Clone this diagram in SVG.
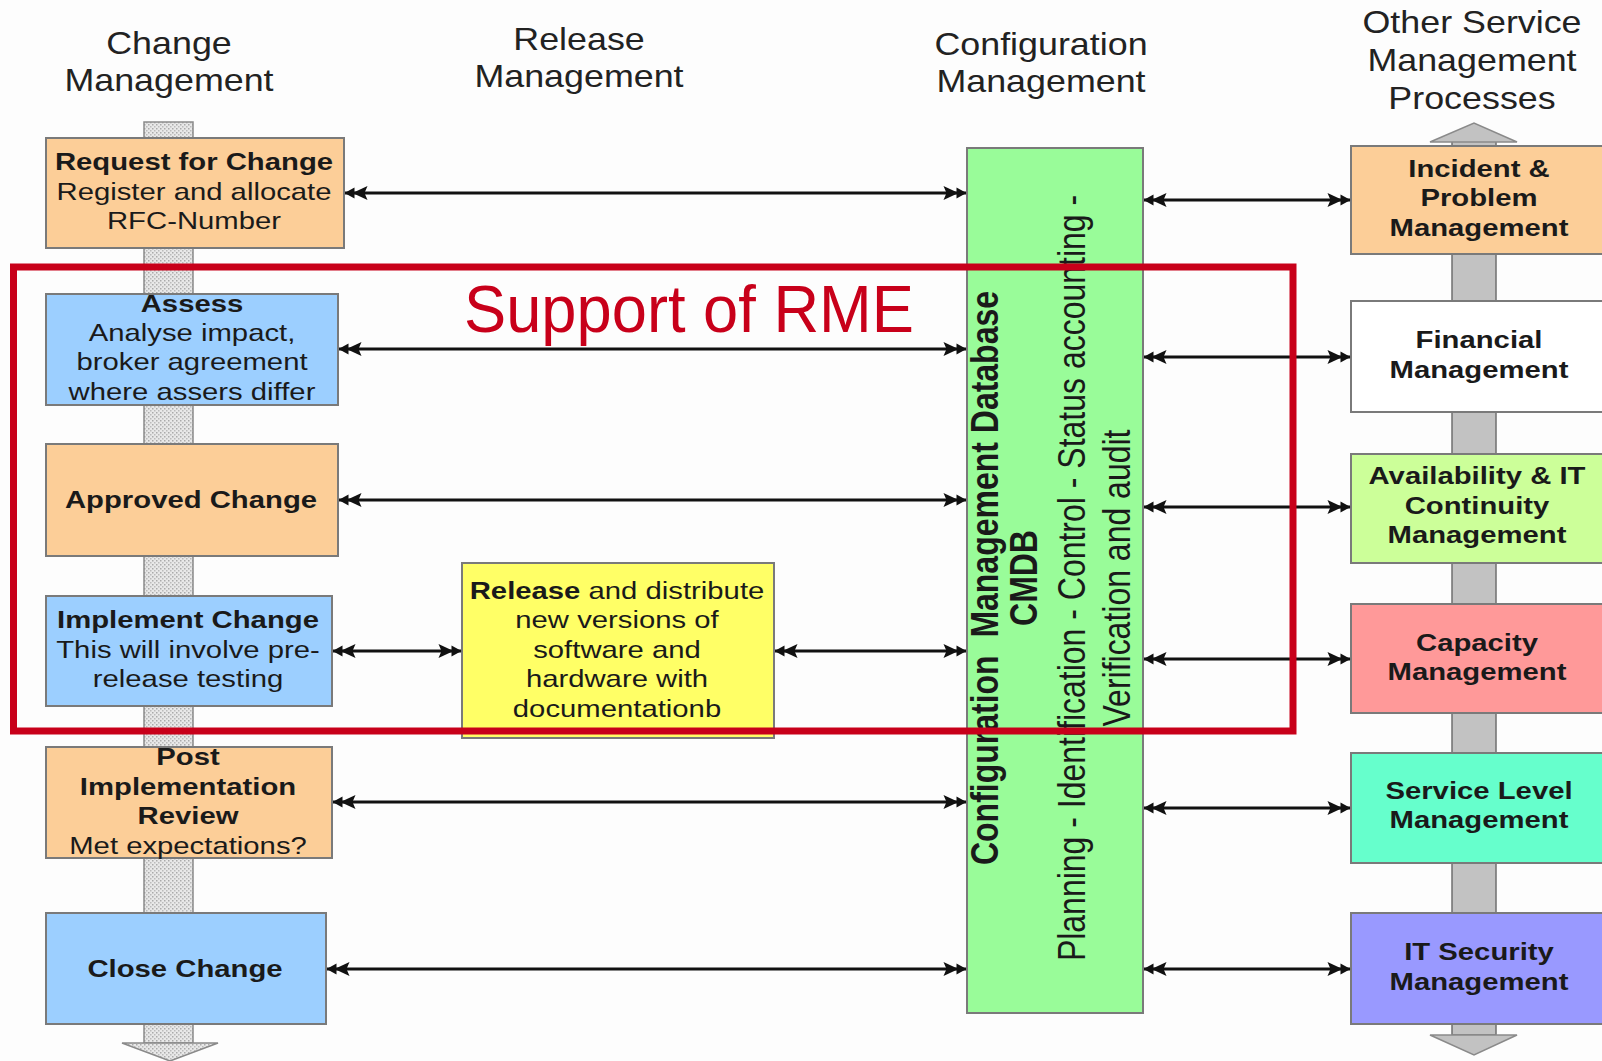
<svg xmlns="http://www.w3.org/2000/svg" width="1602" height="1061" viewBox="0 0 1602 1061">
<style>
text{font-family:"Liberation Sans",Arial,sans-serif;fill:#1a1a1a;text-anchor:middle}
.h{font-size:32px;fill:#222}
.t{font-size:24px}
.b{font-size:24px;font-weight:bold}
.box{stroke:#7a7a7a;stroke-width:2}
.conn{stroke:#111;stroke-width:3.2;fill:none;marker-start:url(#dbl);marker-end:url(#dbl)}
.cm{font-size:32px}
.cmb{font-size:32px;font-weight:bold;white-space:pre}
</style>
<defs>
<pattern id="dots" width="4" height="4" patternUnits="userSpaceOnUse">
<rect width="4" height="4" fill="#e8e8e8"/>
<rect x="0" y="0" width="1.5" height="1.5" fill="#aaaaaa"/>
<rect x="2" y="2" width="1.5" height="1.5" fill="#bbbbbb"/>
</pattern>
<marker id="dbl" viewBox="0 0 25 18" refX="24.5" refY="9" markerWidth="25" markerHeight="18" markerUnits="userSpaceOnUse" orient="auto-start-reverse">
<path d="M25,9 L15,3.5 L15,14.5 Z M17,9 L2,2 L5,9 L2,16 Z" fill="#111"/>
</marker>
</defs>
<rect width="1602" height="1061" fill="#fdfdfd"/>

<g id="headers">
<g transform="translate(169 0) scale(1.12 1)">
<text class="h" x="0" y="54">Change</text>
<text class="h" x="0" y="91">Management</text>
</g>
<g transform="translate(579 0) scale(1.12 1)">
<text class="h" x="0" y="50">Release</text>
<text class="h" x="0" y="87">Management</text>
</g>
<g transform="translate(1041 0) scale(1.12 1)">
<text class="h" x="0" y="55">Configuration</text>
<text class="h" x="0" y="92">Management</text>
</g>
<g transform="translate(1472 0) scale(1.12 1)">
<text class="h" x="0" y="33">Other Service</text>
<text class="h" x="0" y="71">Management</text>
<text class="h" x="0" y="109">Processes</text>
</g>
</g>

<g id="change-spine">
<rect x="144" y="122" width="49" height="921" fill="url(#dots)" stroke="#8a8a8a" stroke-width="1.5"/>
<polygon points="122,1043 218,1043 170,1061" fill="url(#dots)" stroke="#8a8a8a" stroke-width="1.5"/>
</g>

<g id="other-spine">
<rect x="1452" y="140" width="44" height="895" fill="#c2c2c2" stroke="#6f6f6f" stroke-width="1.5"/>
<polygon points="1430,142 1474,123 1517,142" fill="#c2c2c2" stroke="#8a8a8a" stroke-width="1.5"/>
<polygon points="1430,1035 1517,1035 1474,1055" fill="#c2c2c2" stroke="#8a8a8a" stroke-width="1.5"/>
</g>

<g id="rfc">
<rect class="box" x="46" y="138" width="298" height="110" fill="#fcce98"/>
<g transform="translate(194 0) scale(1.22 1)">
<text class="b" x="0" y="170">Request for Change</text>
<text class="t" x="0" y="200">Register and allocate</text>
<text class="t" x="0" y="229">RFC-Number</text>
</g>
</g>

<g id="assess">
<rect class="box" x="46" y="294" width="292" height="111" fill="#9ccfff"/>
<g transform="translate(192 0) scale(1.22 1)">
<text class="b" x="0" y="312">Assess</text>
<text class="t" x="0" y="341">Analyse impact,</text>
<text class="t" x="0" y="370">broker agreement</text>
<text class="t" x="0" y="400">where assers differ</text>
</g>
</g>

<g id="approved">
<rect class="box" x="46" y="444" width="292" height="112" fill="#fcce98"/>
<g transform="translate(191 0) scale(1.22 1)">
<text class="b" x="0" y="508">Approved Change</text>
</g>
</g>

<g id="implement">
<rect class="box" x="46" y="596" width="286" height="110" fill="#9ccfff"/>
<g transform="translate(188 0) scale(1.22 1)">
<text class="b" x="0" y="628">Implement Change</text>
<text class="t" x="0" y="658">This will involve pre-</text>
<text class="t" x="0" y="687">release testing</text>
</g>
</g>

<g id="post">
<rect class="box" x="46" y="747" width="286" height="111" fill="#fcce98"/>
<g transform="translate(188 0) scale(1.22 1)">
<text class="b" x="0" y="765">Post</text>
<text class="b" x="0" y="795">Implementation</text>
<text class="b" x="0" y="824">Review</text>
<text class="t" x="0" y="854">Met expectations?</text>
</g>
</g>

<g id="close">
<rect class="box" x="46" y="913" width="280" height="111" fill="#9ccfff"/>
<g transform="translate(185 0) scale(1.22 1)">
<text class="b" x="0" y="977">Close Change</text>
</g>
</g>

<g id="release">
<rect class="box" x="462" y="563" width="312" height="175" fill="#ffff66"/>
<g transform="translate(617 0) scale(1.22 1)">
<text class="t" x="0" y="599"><tspan font-weight="bold">Release</tspan> and distribute</text>
<text class="t" x="0" y="628">new versions of</text>
<text class="t" x="0" y="658">software and</text>
<text class="t" x="0" y="687">hardware with</text>
<text class="t" x="0" y="717">documentationb</text>
</g>
</g>

<g id="cmdb">
<rect class="box" x="967" y="148" width="176" height="865" fill="#99fc99"/>
<g transform="translate(967 578) scale(1.2 1) rotate(-90)">
<text class="cmb" x="0" y="26">Configuration  Management Database</text>
<text class="cmb" x="0" y="58">CMDB</text>
<text class="cm" x="0" y="98">Planning - Identification - Control - Status accounting -</text>
<text class="cm" x="0" y="136">Verification and audit</text>
</g>
</g>

<g id="incident">
<rect class="box" x="1351" y="146" width="260" height="108" fill="#fcce98"/>
<g transform="translate(1479 0) scale(1.22 1)">
<text class="b" x="0" y="177">Incident &amp;</text>
<text class="b" x="0" y="206">Problem</text>
<text class="b" x="0" y="236">Management</text>
</g>
</g>

<g id="financial">
<rect class="box" x="1351" y="301" width="260" height="111" fill="#ffffff"/>
<g transform="translate(1479 0) scale(1.22 1)">
<text class="b" x="0" y="348">Financial</text>
<text class="b" x="0" y="378">Management</text>
</g>
</g>

<g id="availability">
<rect class="box" x="1351" y="454" width="260" height="109" fill="#ccff99"/>
<g transform="translate(1477 0) scale(1.22 1)">
<text class="b" x="0" y="484">Availability &amp; IT</text>
<text class="b" x="0" y="514">Continuity</text>
<text class="b" x="0" y="543">Management</text>
</g>
</g>

<g id="capacity">
<rect class="box" x="1351" y="604" width="260" height="109" fill="#ff9999"/>
<g transform="translate(1477 0) scale(1.22 1)">
<text class="b" x="0" y="651">Capacity</text>
<text class="b" x="0" y="680">Management</text>
</g>
</g>

<g id="service-level">
<rect class="box" x="1351" y="753" width="260" height="110" fill="#66ffcc"/>
<g transform="translate(1479 0) scale(1.22 1)">
<text class="b" x="0" y="799">Service Level</text>
<text class="b" x="0" y="828">Management</text>
</g>
</g>

<g id="it-security">
<rect class="box" x="1351" y="913" width="260" height="111" fill="#9999ff"/>
<g transform="translate(1479 0) scale(1.22 1)">
<text class="b" x="0" y="960">IT Security</text>
<text class="b" x="0" y="990">Management</text>
</g>
</g>

<g id="connectors">
<line class="conn" x1="345" y1="193" x2="966" y2="193"/>
<line class="conn" x1="339" y1="349" x2="966" y2="349"/>
<line class="conn" x1="339" y1="500" x2="966" y2="500"/>
<line class="conn" x1="333" y1="651" x2="461" y2="651"/>
<line class="conn" x1="775" y1="651" x2="966" y2="651"/>
<line class="conn" x1="333" y1="802" x2="966" y2="802"/>
<line class="conn" x1="327" y1="969" x2="966" y2="969"/>
<line class="conn" x1="1144" y1="200" x2="1350" y2="200"/>
<line class="conn" x1="1144" y1="357" x2="1350" y2="357"/>
<line class="conn" x1="1144" y1="507" x2="1350" y2="507"/>
<line class="conn" x1="1144" y1="659" x2="1350" y2="659"/>
<line class="conn" x1="1144" y1="808" x2="1350" y2="808"/>
<line class="conn" x1="1144" y1="969" x2="1350" y2="969"/>
</g>

<g id="rme">
<rect x="13.5" y="267" width="1279.5" height="464" fill="none" stroke="#c8001a" stroke-width="7"/>
<text x="689" y="332" font-size="66" textLength="450" lengthAdjust="spacingAndGlyphs" style="fill:#c8001a;font-size:66px">Support of RME</text>
</g>
</svg>
